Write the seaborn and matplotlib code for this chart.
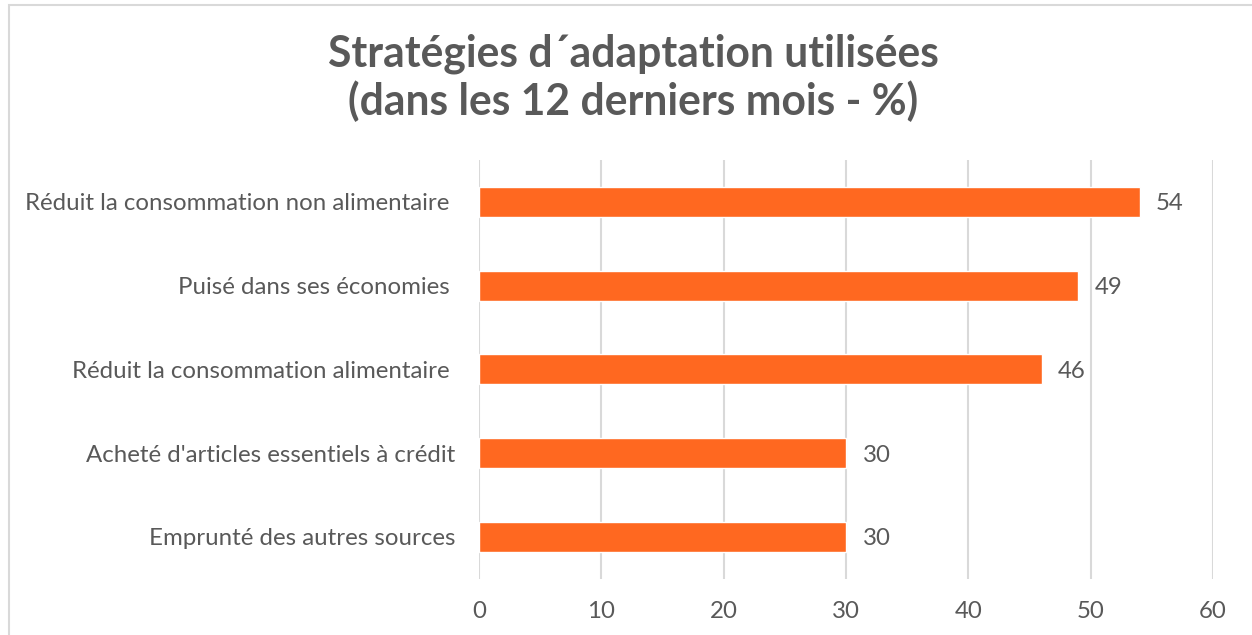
import matplotlib
matplotlib.use("Agg")
import matplotlib.pyplot as plt
import seaborn as sns
import pandas as pd
from matplotlib.patches import Rectangle

categories = [
    "Réduit la consommation non alimentaire ",
    "Puisé dans ses économies ",
    "Réduit la consommation alimentaire ",
    "Acheté d'articles essentiels à crédit",
    "Emprunté des autres sources",
]
values = [54, 49, 46, 30, 30]
x_ticks = [0, 10, 20, 30, 40, 50, 60]
title = "Stratégies d\u00b4adaptation utilisées\n(dans les 12 derniers mois - %)"

sns.set_theme(style="white")
plt.rcParams["font.family"] = ["Lato", "DejaVu Sans"]

TEXT = "#595959"
BAR = "#FF6820"
GRID = "#D9D9D9"

df = pd.DataFrame({"cat": categories, "val": values})

fig = plt.figure(figsize=(12.52, 6.35), dpi=100)
ax = fig.add_axes([479 / 1252, 1 - 578.75 / 635, (1213 - 479) / 1252, (578.75 - 160) / 635])

sns.barplot(data=df, x="val", y="cat", color=BAR, saturation=1, width=0.36, ax=ax, zorder=3)

ax.set_xlim(0, 60)
ax.set_xticks(x_ticks)
ax.set_xticklabels([str(t) for t in x_ticks])
ax.set_xlabel("")
ax.set_ylabel("")
ax.grid(axis="x", color=GRID, linewidth=1.5, zorder=0)
ax.grid(axis="y", visible=False)
for s in ax.spines.values():
    s.set_visible(False)
ax.tick_params(axis="x", length=0, pad=16, labelsize=17.3, labelcolor=TEXT)
ax.tick_params(axis="y", length=0, pad=17, labelsize=17.3, labelcolor=TEXT)

for i, v in enumerate(values):
    ax.text(v + 1.35, i, f"{v}", va="center_baseline", ha="left", fontsize=17.3, color=TEXT)

fig.text(633 / 1252, 1 - 78 / 635, title, ha="center", va="center",
         fontsize=30.7, fontweight="bold", color=TEXT, linespacing=1.17)

fig.patches.append(Rectangle((8.5 / 1252, -0.1), 1.2, 1.1 - 4.5 / 635, transform=fig.transFigure,
                             fill=False, edgecolor="#D9D9D9", linewidth=1.5, zorder=0))

fig.savefig("out.png", dpi=100)
